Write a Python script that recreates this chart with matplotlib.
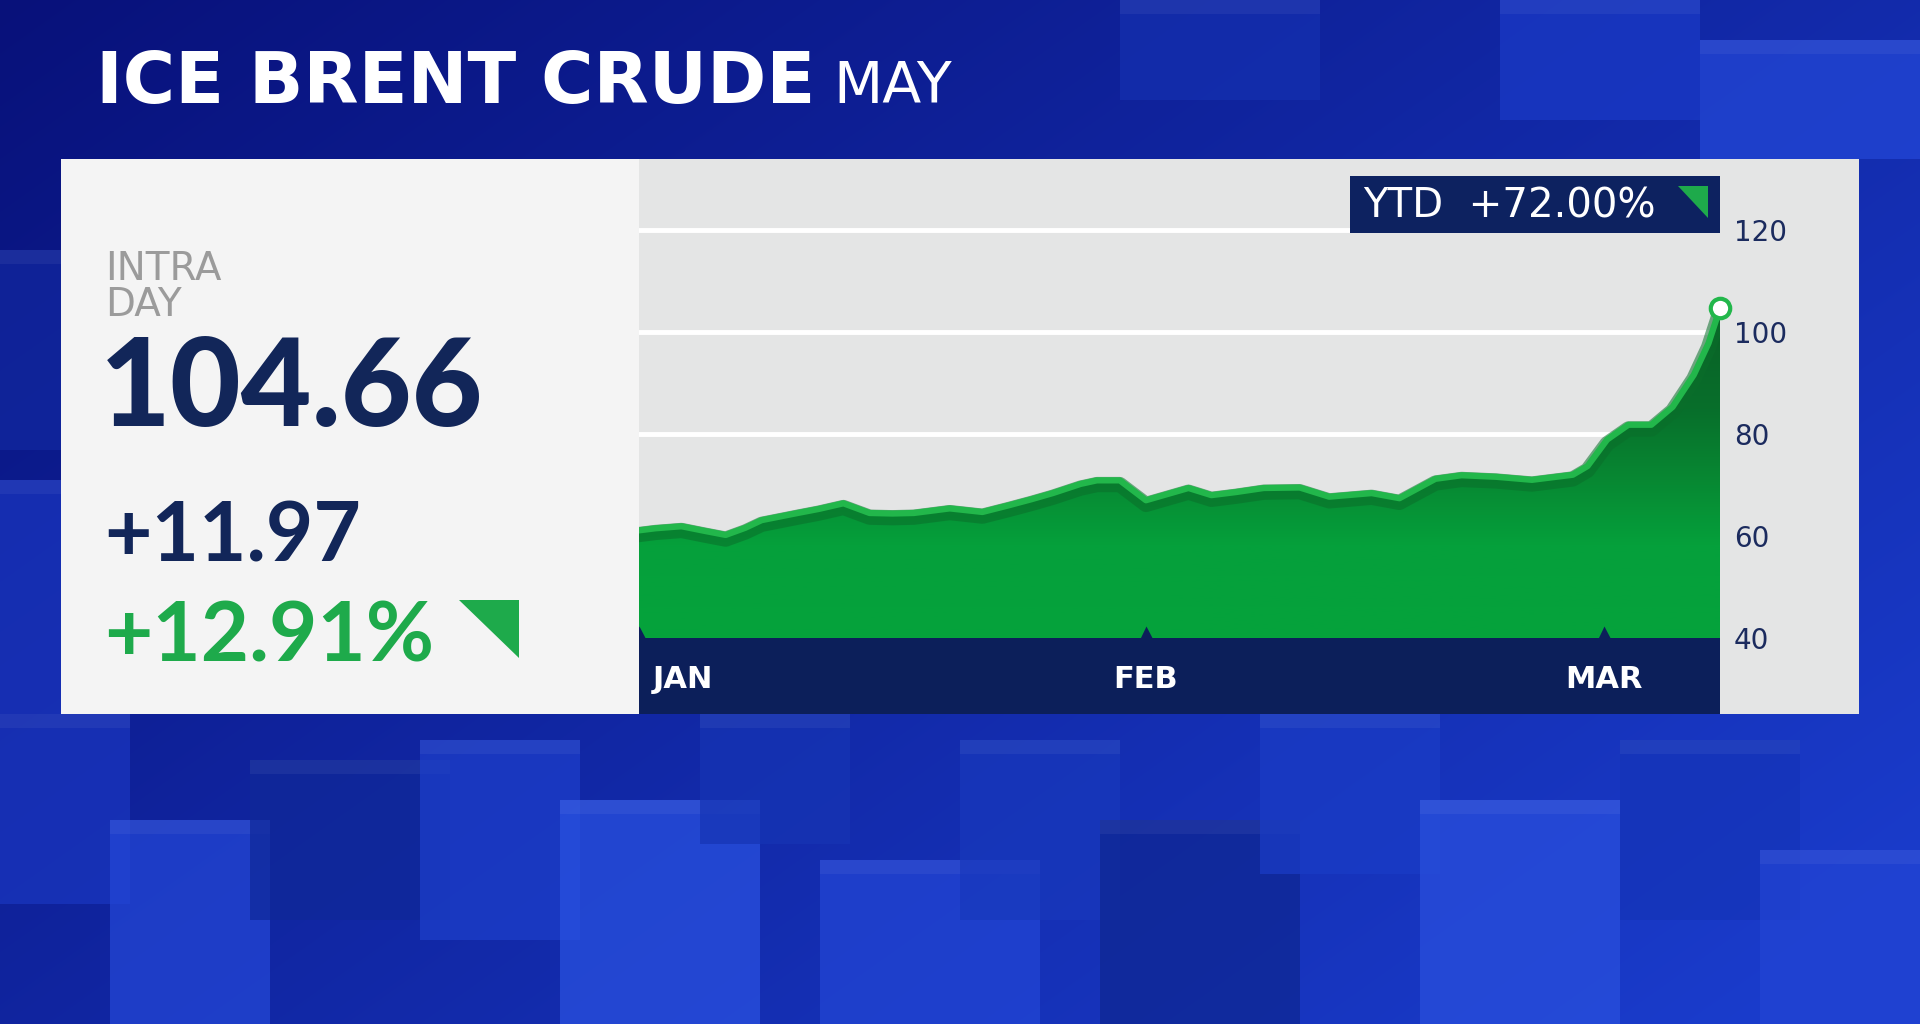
import numpy as np
import matplotlib.pyplot as plt
from matplotlib import patheffects as pe
from matplotlib.patches import Rectangle, Polygon
from matplotlib.colors import LinearSegmentedColormap, to_rgb

plt.rcParams['font.family'] = ['Lato', 'DejaVu Sans']

# text of the graphic
title = "ICE BRENT CRUDE"
contract = "MAY"
last_price = "104.66"
change = "+11.97"
change_pct = "+12.91%"
ytd_text = "YTD  +72.00%"

# price history, x = days since Jan 1
days = [0, 1, 2.6, 4, 5.3, 6.5, 7.5, 9.7, 11, 12.5, 14.1, 15.5, 16.8, 19, 21,
        22.6, 24, 25.3, 27, 28, 29.4, 31, 33.6, 35, 36.5, 38.2, 40.4, 42.2,
        44.8, 46.5, 48.7, 50.3, 52.4, 54.6, 57.1, 58, 59.2, 60.5, 61.9, 63.2,
        64.5, 65.4, 66.1]
prices = [61.1, 61.5, 61.9, 61.0, 60.2, 61.6, 63.1, 64.5, 65.3, 66.4, 64.5,
          64.4, 64.5, 65.4, 64.7, 66.0, 67.2, 68.4, 70.2, 70.9, 70.9, 67.0,
          69.4, 68.0, 68.6, 69.4, 69.5, 67.7, 68.4, 67.4, 71.2, 71.9, 71.6,
          71.0, 72.0, 73.7, 78.9, 81.8, 81.8, 85.3, 91.6, 97.8, 104.66]
month_days = [0, 31, 59]
month_labels = ["JAN", "FEB", "MAR"]
y_ticks = [40, 60, 80, 100, 120]

navy = '#0c1f5a'
text_navy = '#122659'
green = '#1eaa4b'
line_green = '#22b74b'
wide = ['DejaVu Sans']

W, H = 1920, 1024
fig = plt.figure(figsize=(W / 100, H / 100), dpi=100)

# ---- background (pixel coordinates) ----
ax_bg = fig.add_axes([0, 0, 1, 1], zorder=0)
ax_bg.set_xlim(0, W)
ax_bg.set_ylim(H, 0)
ax_bg.axis('off')

yy, xx = np.mgrid[0:1:H * 1j, 0:1:W * 1j]
dark = np.array(to_rgb('#08117a'))
bright = np.array(to_rgb('#1a3ccc'))
t = np.clip(0.6 * xx + 0.45 * yy, 0, 1)[..., None]
ax_bg.imshow(dark * (1 - t) + bright * t, extent=[0, W, H, 0], aspect='auto', zorder=0)

blocks = [
    (0, 714, 130, 190, '#1a36c0'), (110, 820, 160, 204, '#2448d8'),
    (250, 760, 200, 160, '#0f2898'), (420, 740, 160, 200, '#1d3fcc'),
    (560, 800, 200, 224, '#2a52e2'), (700, 714, 150, 130, '#1634b4'),
    (820, 860, 220, 164, '#2346d6'), (960, 740, 160, 180, '#1838bc'),
    (1100, 820, 200, 204, '#0e2690'), (1260, 714, 180, 160, '#1a3cc6'),
    (1420, 800, 200, 224, '#2a50de'), (1620, 740, 180, 180, '#1534b8'),
    (1760, 850, 160, 174, '#2244d4'), (1500, 0, 200, 120, '#1a3ac8'),
    (1700, 40, 220, 119, '#2448d8'), (1120, 0, 200, 100, '#1430b0'),
    (0, 250, 61, 200, '#1228a0'), (0, 480, 61, 234, '#1a36c0'),
]
for x0, y0, bw, bh, c in blocks:
    ax_bg.add_patch(Rectangle((x0, y0), bw, bh, fc=c, ec='none', alpha=0.7, zorder=1))
    ax_bg.add_patch(Rectangle((x0, y0), bw, 14, fc='white', ec='none', alpha=0.05, zorder=1))

# card
ax_bg.add_patch(Rectangle((61, 159), 578, 555, fc='#f4f4f4', ec='none', zorder=2))
ax_bg.add_patch(Rectangle((639, 159), 1220, 555, fc='#e4e5e5', ec='none', zorder=2))

# title
ax_bg.text(96, 103, title, color='white', fontsize=51.5, fontweight='bold', family=wide,
           va='baseline', zorder=3)
ax_bg.text(833, 103, contract, color='white', fontsize=41, family=wide, va='baseline', zorder=3)

# left panel
ax_bg.text(105, 250, "INTRA\nDAY", color='#9b9b9b', fontsize=28, family=wide, va='top',
           linespacing=0.92, zorder=3)
ax_bg.text(100, 426, last_price, color=text_navy, fontsize=88, fontweight='black', va='baseline', zorder=3)
ax_bg.text(104, 561, change, color=text_navy, fontsize=59, fontweight='bold', va='baseline', zorder=3)
ax_bg.text(104, 661, change_pct, color=green, fontsize=60, fontweight='bold', va='baseline', zorder=3)
ax_bg.add_patch(Polygon([(459, 600), (519, 600), (519, 658)], fc=green, ec='none', zorder=3))

# ---- chart ----
ax = fig.add_axes([639 / W, (H - 638) / H, 1081 / W, (638 - 159) / H], zorder=1)
ax.set_facecolor('#e4e5e5')
for s in ax.spines.values():
    s.set_visible(False)
ax.set_axisbelow(True)
ax.grid(axis='y', color='white', lw=3.5)

poly = ax.fill_between(days, prices, 40, color='none', zorder=2)
cmap = LinearSegmentedColormap.from_list(
    'fill', [(0, '#05a33c'), (0.28, '#05a03b'), (0.46, '#078a33'), (0.69, '#086f2b'), (1, '#0a5f26')])
grad = np.linspace(0, 1, 256).reshape(-1, 1)
im = ax.imshow(grad, extent=[days[0], days[-1], 40, 105], origin='lower',
               aspect='auto', cmap=cmap, zorder=2)
im.set_clip_path(poly.get_paths()[0], transform=ax.transData)

ax.plot(days, prices, color=line_green, lw=4.5, solid_joinstyle='round', zorder=3,
        path_effects=[pe.Stroke(offset=(0, -3), linewidth=11, foreground='#0a6e2a', alpha=0.55),
                      pe.Normal()])
ax.plot(days[-1], prices[-1], 'o', ms=14, mfc='white', mec=line_green, mew=3,
        zorder=5, clip_on=False)

# month notches on the date band
ax.plot(month_days, [40] * len(month_days), '^', ms=18, color=navy, mec='none', zorder=4)

ax.set_xlim(days[0], days[-1])
ax.set_ylim(40, 133.9)
ax.set_xticks([])
ax.set_yticks(y_ticks)
ax.yaxis.tick_right()
ax.tick_params(axis='y', length=0, pad=10, labelsize=20, labelcolor='#1b2b5e')
for lab in ax.get_yticklabels():
    lab.set_family(wide)

# date band
ax_band = fig.add_axes([639 / W, (H - 714) / H, 1081 / W, 76 / H], zorder=1, sharex=ax)
ax_band.set_facecolor(navy)
for s in ax_band.spines.values():
    s.set_visible(False)
ax_band.tick_params(left=False, bottom=False, labelleft=False, labelbottom=False)
for d, lab in zip(month_days, month_labels):
    if d == month_days[0]:
        ax_band.annotate(lab, (d, 0.342), xycoords=('data', 'axes fraction'),
                         xytext=(10, 0), textcoords='offset points', ha='left',
                         va='baseline', color='white', fontsize=22, fontweight='bold',
                         family=wide)
    else:
        ax_band.text(d, 0.342, lab, transform=ax_band.get_xaxis_transform(), ha='center',
                     va='baseline', color='white', fontsize=22, fontweight='bold', family=wide)

# YTD box on top
ax_top = fig.add_axes([0, 0, 1, 1], zorder=10)
ax_top.set_xlim(0, W)
ax_top.set_ylim(H, 0)
ax_top.axis('off')
ax_top.add_patch(Rectangle((1350, 176), 370, 57, fc='#0d2260', ec='none'))
ax_top.text(1363, 218, ytd_text, color='white', fontsize=29, family=wide, va='baseline')
ax_top.add_patch(Polygon([(1678, 186), (1708, 186), (1708, 218)], fc=green, ec='none'))

fig.savefig('out.png', dpi=100)
